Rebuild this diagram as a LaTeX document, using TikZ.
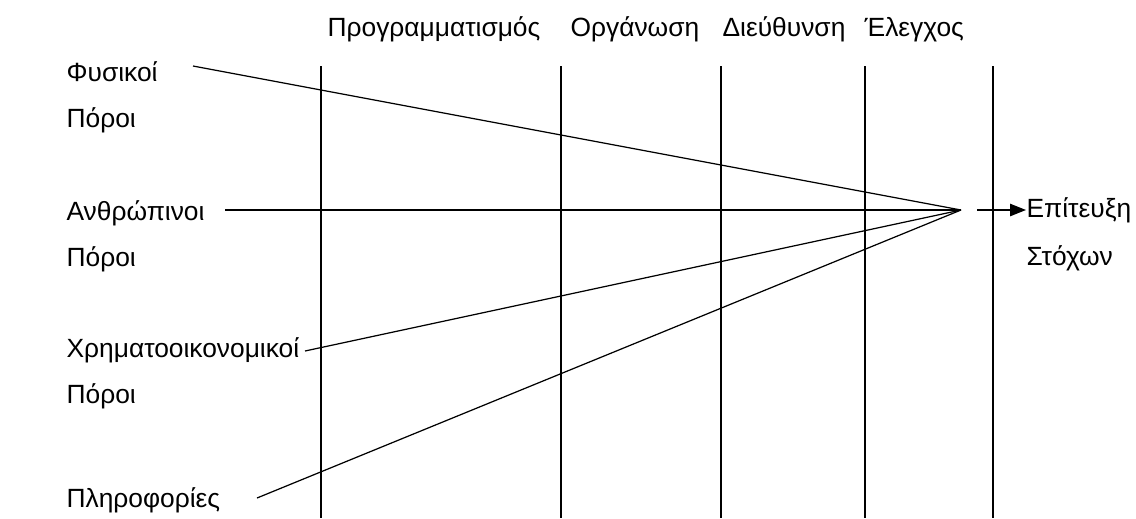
\documentclass[tikz,border=0pt]{standalone}
\usepackage{fontspec}
\setmainfont{Liberation Sans}
\usetikzlibrary{arrows.meta}

\begin{document}
\begin{tikzpicture}[x=0.02cm, y=-0.02cm, line width=0.7pt,
  lbl/.style={anchor=base west, inner sep=0pt, font=\fontsize{15}{18}\selectfont}]
  \useasboundingbox (0,0) rectangle (1136,518);

  % function columns
  \foreach \n/\x in {a/321, b/561, c/721, d/865, e/993}
    \draw (\x,66) coordinate (\n top) -- (\x,518) coordinate (\n bot);
  \node[lbl] (plan) at (327,36) {Προγραμματισμός};
  \node[lbl] (org)  at (570,36) {Οργάνωση};
  \node[lbl] (dir)  at (722,36) {Διεύθυνση};
  \node[lbl] (ctrl) at (864,36) {Έλεγχος};

  % resources
  \node[lbl] (phys) at (66,81)  {Φυσικοί};
  \node[lbl] at (66,127) {Πόροι};
  \node[lbl] (hum)  at (66,220) {Ανθρώπινοι};
  \node[lbl] at (66,266) {Πόροι};
  \node[lbl] (fin)  at (66,357) {Χρηματοοικονομικοί};
  \node[lbl] at (66,403) {Πόροι};
  \node[lbl] (inf)  at (66,507) {Πληροφορίες};

  \coordinate (goal) at (961,210);
  \coordinate (physend) at (193,66);
  \coordinate (humend)  at (225,210);
  \coordinate (finend)  at (305,351);
  \coordinate (infend)  at (257,498);
  \foreach \s in {physend, humend, finend, infend}
    \draw (\s) -- (goal);

  % outcome
  \node[lbl] (ach) at (1026,217) {Επίτευξη};
  \node[lbl] at (1026,265) {Στόχων};
  \coordinate (out) at (977,210);
  \draw[-{Triangle[length=9pt,width=7pt]}] (out) -- (out -| ach.west);
\end{tikzpicture}
\end{document}
